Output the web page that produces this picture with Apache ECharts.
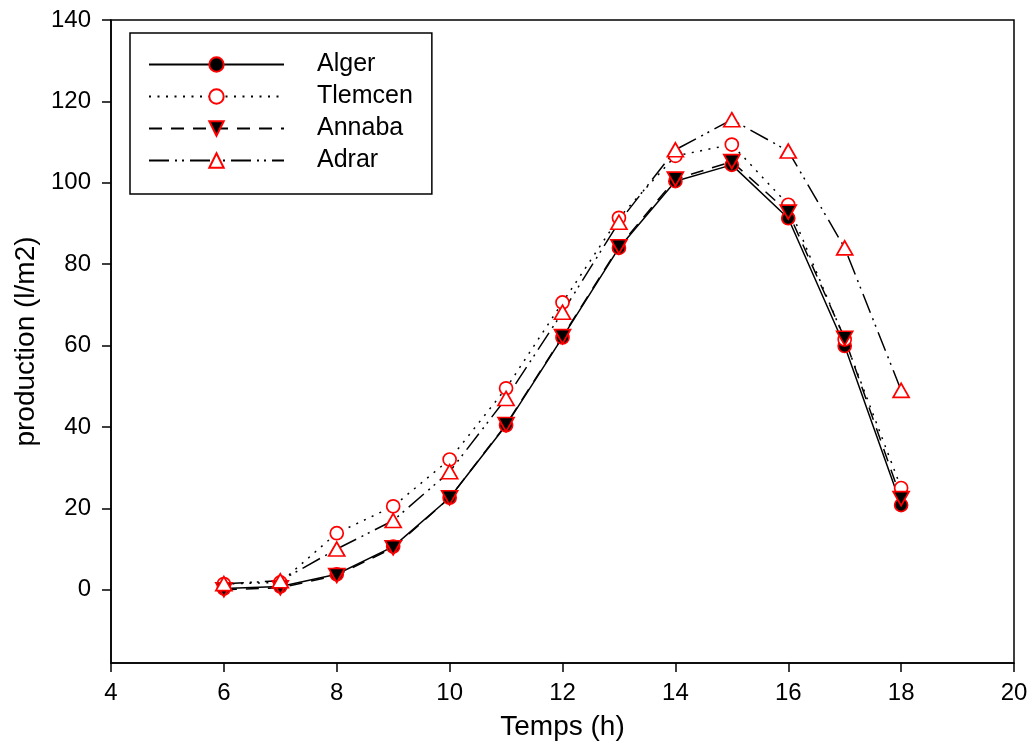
<!DOCTYPE html>
<html>
<head>
<meta charset="utf-8">
<script src="https://cdn.jsdelivr.net/npm/echarts@6/dist/echarts.min.js"></script>
<style>
html,body{margin:0;padding:0;background:#fff;}
#chart{width:1033px;height:753px;}
</style>
</head>
<body>
<div id="chart"></div>
<script>
// Data
var hours   = [6, 7, 8, 9, 10, 11, 12, 13, 14, 15, 16, 17, 18];
var alger   = [0.3, 0.8, 3.8, 10.6, 22.6, 40.4, 62.0, 84.0, 100.4, 104.4, 91.3, 59.9, 20.8];
var tlemcen = [1.4, 1.8, 13.9, 20.5, 32.0, 49.5, 70.6, 91.4, 106.6, 109.4, 94.6, 61.5, 25.0];
var annaba  = [0.0, 0.5, 3.5, 10.3, 22.6, 40.6, 62.2, 84.3, 100.9, 105.2, 92.8, 61.8, 22.4];
var adrar   = [1.5, 2.2, 10.0, 17.0, 29.0, 47.0, 68.2, 90.3, 108.1, 115.5, 107.8, 84.0, 49.0];
var yTicks  = [0, 20, 40, 60, 80, 100, 120, 140];
var names   = ['Alger', 'Tlemcen', 'Annaba', 'Adrar'];

function pairs(xs, ys) { return xs.map(function (x, i) { return [x, ys[i]]; }); }

var FONT = 'Liberation Sans, Arial, sans-serif';
var chart = echarts.init(document.getElementById('chart'), null, {renderer: 'canvas'});

function mkSeries(name, data, dash, symbol, size, fill, rot) {
  return {
    name: name,
    type: 'line',
    data: pairs(hours, data),
    symbol: symbol,
    symbolSize: size,
    symbolRotate: rot || 0,
    showAllSymbol: true,
    animation: false,
    lineStyle: {color: '#000', width: 1.5, type: dash},
    itemStyle: {color: fill, borderColor: '#ff0000', borderWidth: 1.7},
    emphasis: {disabled: true},
    z: 2
  };
}

chart.setOption({
  animation: false,
  backgroundColor: '#fff',
  grid: {left: 111, right: 19, top: 20, bottom: 90, show: true, borderColor: '#000', borderWidth: 1.5, containLabel: false},
  legend: {
    orient: 'vertical',
    left: 130, top: 33,
    padding: [19, 19, 21, 18],
    borderColor: '#000', borderWidth: 1.5,
    itemWidth: 135, itemHeight: 18, itemGap: 7,
    data: names,
    textStyle: {fontFamily: FONT, fontSize: 25, color: '#000', padding: [0, 0, 0, 28], lineHeight: 24}
  },
  xAxis: {
    type: 'value', min: 4, max: 20, interval: 2,
    name: 'Temps (h)', nameLocation: 'middle', nameGap: 50,
    nameTextStyle: {fontFamily: FONT, fontSize: 28, color: '#000'},
    axisLine: {show: true, onZero: false, lineStyle: {color: '#000', width: 1.5}},
    axisTick: {show: true, length: 9, lineStyle: {color: '#000', width: 1.5}},
    axisLabel: {fontFamily: FONT, fontSize: 24, color: '#000', margin: 18},
    splitLine: {show: false}
  },
  yAxis: {
    type: 'value', min: -18, max: 140,
    name: 'production (l/m2)', nameLocation: 'middle', nameGap: 57,
    nameTextStyle: {fontFamily: FONT, fontSize: 28, color: '#000'},
    axisLine: {show: true, onZero: false, lineStyle: {color: '#000', width: 1.5}},
    axisTick: {show: true, length: 9, customValues: yTicks, lineStyle: {color: '#000', width: 1.5}},
    axisLabel: {fontFamily: FONT, fontSize: 24, color: '#000', margin: 20, customValues: yTicks},
    splitLine: {show: false}
  },
  series: [
    mkSeries('Alger', alger, 'solid', 'circle', 13, '#000'),
    mkSeries('Tlemcen', tlemcen, [2, 6.5], 'circle', 13, '#fff'),
    mkSeries('Annaba', annaba, [13, 9], 'triangle', [16, 14], '#000', 180),
    mkSeries('Adrar', adrar, [20, 6, 2, 5, 2, 6], 'triangle', [16, 14], '#fff')
  ]
});
</script>
</body>
</html>
